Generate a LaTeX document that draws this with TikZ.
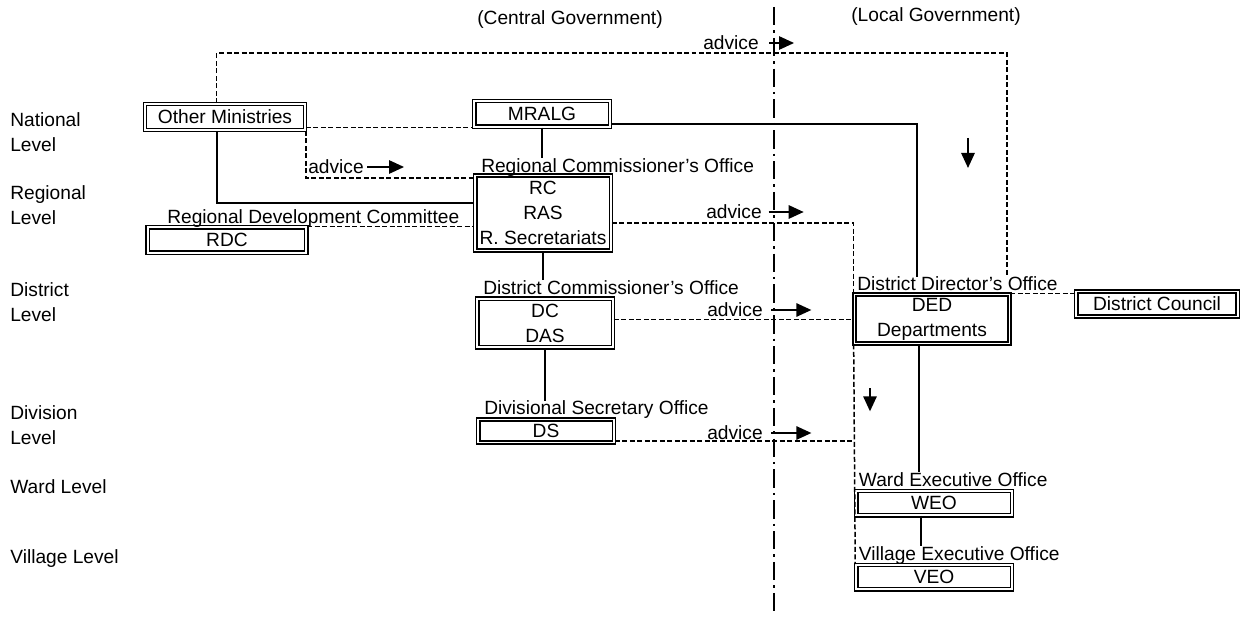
\documentclass[tikz,border=0pt]{standalone}
\usepackage{fontspec}
\setmainfont{Liberation Sans}
\usetikzlibrary{positioning,arrows.meta}

\begin{document}
\begin{tikzpicture}[x=0.6pt,y=-0.6pt,
  every node/.style={font=\fontsize{11.5}{15}\selectfont, inner sep=2pt},
  office/.style={draw, double, double distance=0.9pt, line width=1pt, align=center},
  lbl/.style={inner sep=0pt, text depth=0pt},
  lvl/.style={anchor=west, align=left, inner sep=0pt},
  link/.style={line width=1.2pt},
  adv/.style={dash pattern=on 3pt off 1.5pt, line width=0.9pt},
  tip/.style={line width=1.1pt, -{Triangle[length=9pt,width=8pt]}}]
\useasboundingbox (0,0) rectangle (1241,617);

\node (central) at (570,20) {(Central Government)};
\node (local) at (936,17) {(Local Government)};

\node[lvl] (national) at (10,132) {National\\Level};
\node[lvl] (regional) at (10,205) {Regional\\Level};
\node[lvl] (district) at (10,302) {District\\Level};
\node[lvl] (division) at (10,425) {Division\\Level};
\node[lvl] (ward) at (10,487) {Ward Level};
\node[lvl] (village) at (10,559) {Village Level};

\node[office, minimum width=96pt, minimum height=15.6pt] (om) at (225,117) {Other Ministries};
\node[office, minimum width=81.5pt, minimum height=15.5pt] (mralg) at (542,114) {MRALG};
\node[office, minimum width=81.5pt, minimum height=45pt] (rc) at (543,213) {RC\\RAS\\R. Secretariats};
\node[office, minimum width=95pt, minimum height=15.5pt] (rdc) at (227,240) {RDC};
\node[office, minimum width=81.5pt, minimum height=29pt] (dc) at (545,323) {DC\\DAS};
\node[office, minimum width=81.5pt, minimum height=14pt] (ds) at (546,431) {DS};
\node[office, minimum width=93pt, minimum height=29.5pt] (ded) at (932,319) {DED\\Departments};
\node[office, minimum width=97pt, minimum height=15pt] (dcouncil) at (1157,304) {District Council};
\node[office, minimum width=93.5pt, minimum height=14.5pt] (weo) at (934,503) {WEO};
\node[office, minimum width=93.5pt, minimum height=14.5pt] (veo) at (934,577) {VEO};

\node[lbl, above right=1pt and 4pt of rc.north west] (rclbl) {Regional Commissioner's Office};
\node[lbl, above right=1.5pt and 12pt of rdc.north west] (rdclbl) {Regional Development Committee};
\node[lbl, above right=2pt and 4pt of dc.north west] (dclbl) {District Commissioner's Office};
\node[lbl, above right=2pt and 4pt of ds.north west] (dslbl) {Divisional Secretary Office};
\node[lbl, above right=1.5pt and 2pt of ded.north west] (dedlbl) {District Director's Office};
\node[lbl, above right=2pt and 2pt of weo.north west] (weolbl) {Ward Executive Office};
\node[lbl, above right=2pt and 2pt of veo.north west] (veolbl) {Village Executive Office};

\coordinate (divtop) at (774,7);
\coordinate (divbot) at (774,612);
\draw[line width=1.5pt, dash pattern=on 11pt off 3pt on 1.5pt off 3pt] (divtop) -- (divbot);

\coordinate (topright) at (1007,53);
\draw[adv] ([xshift=-5pt]om.north) |- (topright) -- (topright |- dedlbl.north);
\draw[adv] ([yshift=2pt]om.south east) -- ([yshift=2pt]om.south east -| mralg.west);
\draw[link] ([yshift=-6pt]mralg.east) -| ([xshift=-9pt]ded.north |- dedlbl.north);
\draw[link] ([xshift=-5pt]om.south) |- ([yshift=6pt]rc.west);
\draw[adv] (om.south east) |- ([yshift=-2pt]rc.north west);
\draw[adv] (rdc.north east) -- (rdc.north east -| rc.west);
\draw[link] (mralg.south) -- (mralg.south |- rclbl.north);
\draw[link] (rc.south) -- (rc.south |- dclbl.north);
\draw[link] (dc.south) -- (dc.south |- dslbl.north);
\draw[adv] ([yshift=-6pt]rc.east) -| (ded.north west);
\draw[adv] (ded.south west) -- (veo.north west);
\draw[adv] ([yshift=2pt]dc.east) -- ([yshift=2pt]dc.east -| ded.west);
\draw[adv] ([yshift=-6pt]ds.east) -- ([yshift=-6pt]ds.east -| ded.west);
\draw[adv] (ded.north east) -- (ded.north east -| dcouncil.west);
\draw[link] ([xshift=-8pt]ded.south) -- ([xshift=-8pt]ded.south |- weolbl.north);
\draw[link] ([xshift=-8pt]weo.south) -- ([xshift=-8pt]weo.south |- veolbl.north);

\node (advtop) at (731,43) {advice};
\draw[tip] ([xshift=4pt]advtop.east) -- ++(15pt,0);
\node (advom) at (336,167) {advice};
\draw[tip] (advom.east) -- ++(22pt,0);
\node (advrc) at (734,212) {advice};
\draw[tip] ([xshift=2pt]advrc.east) -- ++(21pt,0);
\node (advdc) at (735,310) {advice};
\draw[tip] ([xshift=3pt]advdc.east) -- ++(24pt,0);
\node (advds) at (735,433) {advice};
\draw[tip] ([xshift=3pt]advds.east) -- ++(24pt,0);

\coordinate (downa) at (968,138);
\coordinate (downb) at (870,388);
\draw[tip] (downa) -- ++(0,-18pt);
\draw[tip] (downb) -- ++(0,-14pt);
\end{tikzpicture}
\end{document}
